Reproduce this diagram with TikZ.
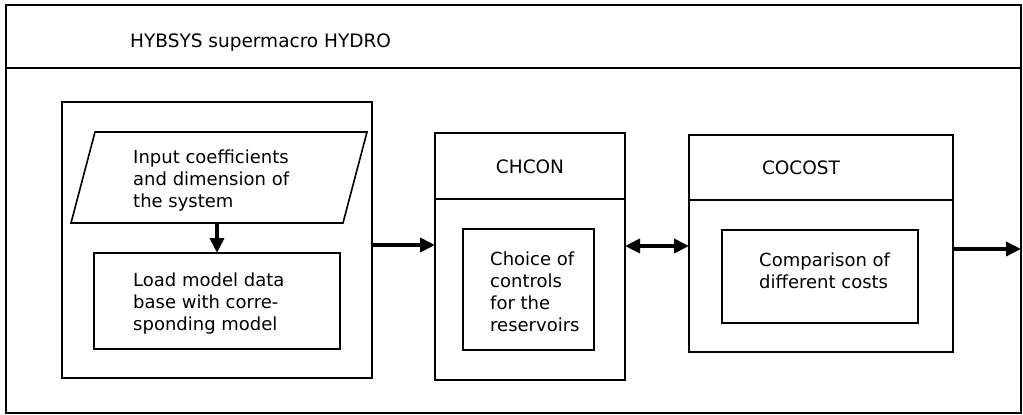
\documentclass[tikz,border=0pt]{standalone}
\usepackage{fontspec}
\setmainfont{DejaVu Sans}
\usetikzlibrary{arrows.meta}
\begin{document}
\begin{tikzpicture}[x=1pt,y=-1pt,
  box/.style={draw,line width=1.6pt,inner sep=0pt,outer sep=0pt,anchor=north west},
  txt/.style={inner sep=0pt,anchor=north west,align=left,font=\fontsize{18}{22}\selectfont},
  hdr/.style={inner sep=0pt,anchor=base,font=\fontsize{18.5}{22}\selectfont},
  tip/.style={Triangle[length=15pt,width=14pt]},
  arr/.style={line width=4pt,-{Triangle[length=15pt,width=14pt]}},
  darr/.style={line width=4pt,{Triangle[length=15pt,width=14pt]}-{Triangle[length=15pt,width=14pt]}},
]
\useasboundingbox (0,0) rectangle (1023,415);
% outer frame
\node[box,minimum width=1015pt,minimum height=408pt] (outer) at (6,5) {};
\node[box,minimum width=1015pt,minimum height=63pt] (titlebar) at (6,5) {};
\node[hdr,anchor=base west] (title) at (130,47) {HYBSYS supermacro HYDRO};
% left block
\node[box,minimum width=310pt,minimum height=276pt] (lbox) at (62,102) {};
\draw[line width=1.6pt,line join=miter] (95,132) -- (367,132) -- (343,223) -- (71,223) -- cycle;
\coordinate (pbot) at (217,223);
\node[txt] (intext) at (133,150) {Input coefficients\\and dimension of\\the system};
\node[box,minimum width=246pt,minimum height=96pt] (load) at (94,253) {};
\node[txt] (loadtext) at (133,273) {Load model data\\base with corre-\\sponding model};
\draw[arr] (pbot) -- (load.north);
% CHCON
\node[box,minimum width=190pt,minimum height=66pt] (chhead) at (435,133) {};
\node[box,minimum width=190pt,minimum height=181pt] (chbody) at (435,199) {};
\node[hdr] (chlabel) at (530,173) {CHCON};
\node[box,minimum width=131pt,minimum height=121pt] (chin) at (463,229) {};
\node[txt] (chtext) at (490,252) {Choice of\\controls\\for the\\reservoirs};
% COCOST
\node[box,minimum width=264pt,minimum height=65pt] (cohead) at (689,135) {};
\node[box,minimum width=264pt,minimum height=152pt] (cobody) at (689,200) {};
\node[hdr] (colabel) at (801,174) {COCOST};
\node[box,minimum width=196pt,minimum height=93pt] (coin) at (722,230) {};
\node[txt] (cotext) at (759,253) {Comparison of\\different costs};
% connectors
\coordinate (la) at (0,245);
\coordinate (lb) at (0,246);
\coordinate (lc) at (0,249);
\draw[arr] (lbox.east |- la) -- (chbody.west |- la);
\draw[darr] (chbody.east |- lb) -- (cobody.west |- lb);
\draw[arr] (cobody.east |- lc) -- (outer.east |- lc);
\end{tikzpicture}
\end{document}
